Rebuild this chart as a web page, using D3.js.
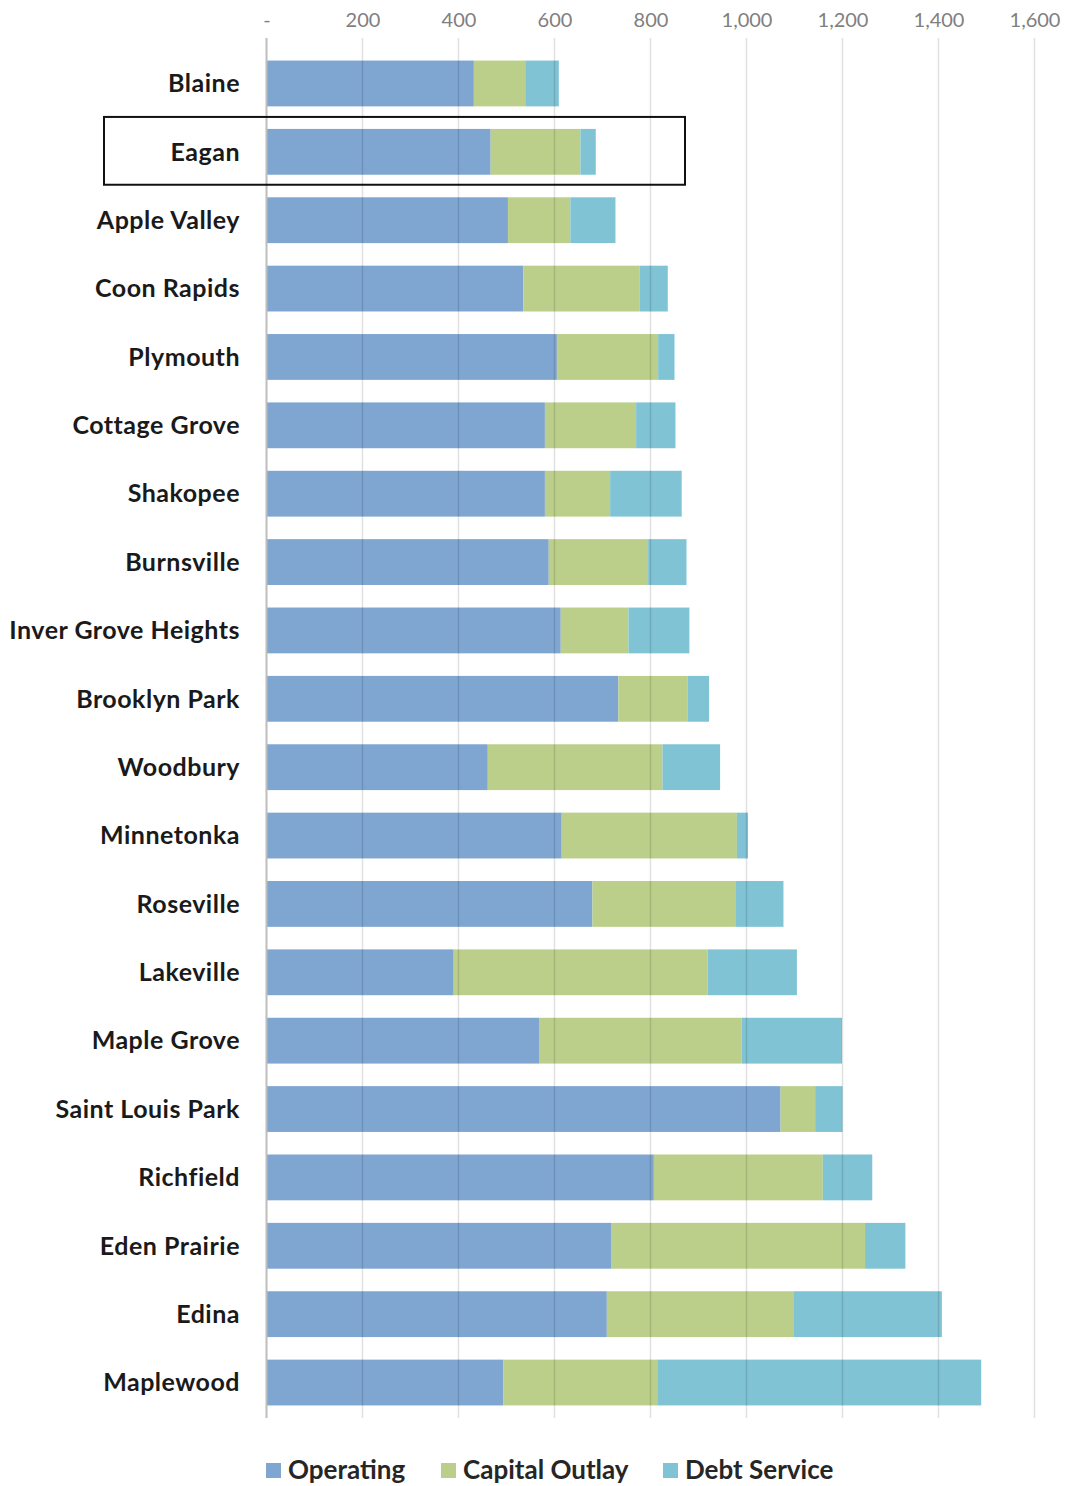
<!DOCTYPE html>
<meta charset="utf-8">
<style>
	body { margin:0; background:#fff; }
	svg { display:block; font-family: Lato, "Open Sans", sans-serif; }
</style>
<script src="https://d3js.org/d3.v7.min.js"></script>
<body>
<div id="chart"></div>
<script>
	// cities, top to bottom
	var cities = ["Blaine","Eagan","Apple Valley","Coon Rapids","Plymouth","Cottage Grove","Shakopee","Burnsville",
		"Inver Grove Heights","Brooklyn Park","Woodbury","Minnetonka","Roseville","Lakeville","Maple Grove",
		"Saint Louis Park","Richfield","Eden Prairie","Edina","Maplewood"];
	var operating   = [432,467,503,535,605,580,580,588,613,733,461,615,679,390,569,1071,807,719,709,493];
	var capital     = [107,187,130,242,211,190,136,207,141,144,364,365,299,529,421,72,352,528,390,321];
	var debtService = [70,32,94,59,34,82,149,80,127,45,120,23,99,186,209,57,103,84,308,675];
	var seriesNames = ["Operating","Capital Outlay","Debt Service"];
	var xTicks = [0,200,400,600,800,1000,1200,1400,1600];
	var highlighted = "Eagan";

	var colors = ["#7fa5d1","#bbcf8a","#7fc3d5"];
	var width = 1067, height = 1486;
	var plotLeft = 266.5, plotRight = 1034.5;
	var plotTop = 38, plotBottom = 1418;

	var svg = d3.select("#chart").append("svg")
		.attr("width", width)
		.attr("height", height);

	var x = d3.scaleLinear().domain([0,1600]).range([plotLeft,plotRight]);
	var y = d3.scaleBand().domain(cities).range([plotTop, 1428]).paddingInner(0.33).paddingOuter(0.33);

	var rows = cities.map(function(c,i) {
		return {city:c, "Operating":operating[i], "Capital Outlay":capital[i], "Debt Service":debtService[i]};
	});
	var stacked = d3.stack().keys(seriesNames)(rows);

	// bars
	svg.append("g").selectAll("g")
		.data(stacked)
		.join("g")
		.attr("fill", function(d,i) {return colors[i]})
		.selectAll("rect")
		.data(function(d) {return d})
		.join("rect")
		.attr("x", function(d) {return x(d[0])})
		.attr("width", function(d) {return x(d[1]) - x(d[0])})
		.attr("y", function(d) {return y(d.data.city)})
		.attr("height", y.bandwidth());

	// gridlines drawn over bars, faint
	svg.append("g").selectAll("line")
		.data(xTicks.slice(1))
		.join("line")
		.attr("x1", function(d) {return x(d)})
		.attr("x2", function(d) {return x(d)})
		.attr("y1", plotTop)
		.attr("y2", plotBottom)
		.attr("stroke", "rgba(0,0,0,0.12)")
		.attr("stroke-width", 1.5);

	// category axis line
	svg.append("line")
		.attr("x1", x(0)).attr("x2", x(0))
		.attr("y1", plotTop).attr("y2", plotBottom)
		.attr("stroke", "#bdbdbd")
		.attr("stroke-width", 2);

	// top axis
	var xAxis = d3.axisTop(x)
		.tickValues(xTicks)
		.tickSize(0)
		.tickFormat(function(d) {return d === 0 ? "-" : d3.format(",")(d)});
	var gx = svg.append("g")
		.attr("transform", "translate(0,20)")
		.call(xAxis);
	gx.select(".domain").remove();
	gx.selectAll("text")
		.attr("dy", "0.35em")
		.attr("y", 0)
		.attr("font-size", 20)
		.attr("font-family", "Lato, sans-serif")
		.attr("fill", "#7f7f7f");

	// city labels
	svg.append("g").selectAll("text")
		.data(cities)
		.join("text")
		.attr("x", 240)
		.attr("y", function(d) {return y(d) + y.bandwidth()/2})
		.attr("dy", "0.35em")
		.attr("text-anchor", "end")
		.attr("font-size", 25)
		.attr("letter-spacing", "0.5px")
		.attr("font-weight", "bold")
		.attr("fill", "#1a1a1a")
		.text(function(d) {return d});

	// highlight box round Eagan
	svg.append("rect")
		.attr("x", 104)
		.attr("y", y(highlighted) - 12)
		.attr("width", 581)
		.attr("height", y.bandwidth() + 22)
		.attr("fill", "none")
		.attr("stroke", "#111")
		.attr("stroke-width", 2);

	// legend
	var legendX = [266, 441, 663];
	var lg = svg.append("g").selectAll("g")
		.data(seriesNames)
		.join("g")
		.attr("transform", function(d,i) {return "translate(" + legendX[i] + ",1470)"});
	lg.append("rect")
		.attr("x", 0).attr("y", -7)
		.attr("width", 15).attr("height", 15)
		.attr("fill", function(d,i) {return colors[i]});
	lg.append("text")
		.attr("x", 22)
		.attr("dy", "0.35em")
		.attr("font-size", 26)
		.attr("font-weight", "bold")
		.attr("fill", "#262626")
		.text(function(d) {return d});
</script>
</body>
